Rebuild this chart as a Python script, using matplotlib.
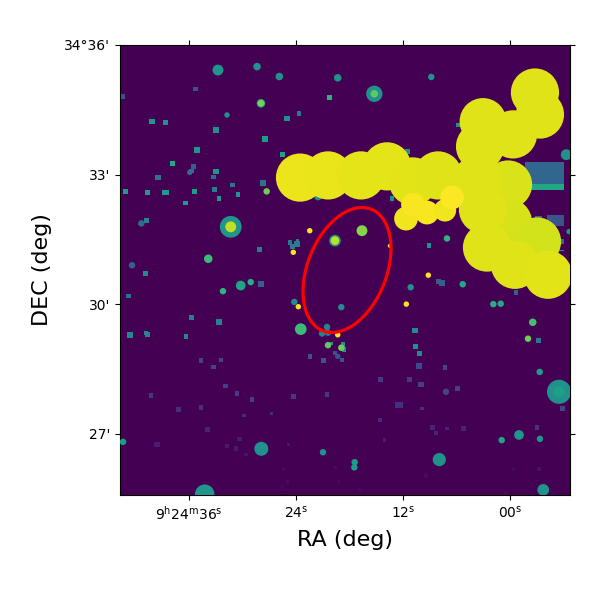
import matplotlib
matplotlib.use('Agg')
import matplotlib.pyplot as plt
from matplotlib.patches import Ellipse
from matplotlib.transforms import Affine2D

# RA = seconds past 9h24m, DEC = arcmin past 34 deg, size in arcsec
SQ_RA = [20.27, 35.25, 43.40, 23.66, 25.01, 40.12, 38.61, 32.94, 27.48, 35.07,
         25.54, 37.87, 35.47, 35.74, 32.94, 33.23, 39.44, 31.14, 27.73, 43.10,
         40.68, 38.80, 38.52, 35.41, 33.16, 30.50, 32.64, 36.37, 40.74, 24.67,
         23.89, 23.85, 24.37, 28.12, 5.80, 11.47, 13.23, 9.08, -5.83, 40.90,
         27.93, 42.76, 35.74, 32.67, 36.34, 42.65, 40.82, 40.68, 20.00, 18.73,
         18.62, 22.43, 20.89, 19.63, 18.84, 34.65, 32.41, 33.23, 31.88, 30.62,
         28.93, 40.26, 24.26, 20.52, 37.16, 34.65, 29.83, 26.73, 33.95, 39.56,
         30.31, 31.74, 30.73, 29.61, 24.86, 19.63, 25.42, 24.93, 25.54, 19.26,
         8.04, 7.59, -0.67, -3.22, 10.69, 10.62, 10.17, 10.21, 7.29, 14.55,
         11.29, 9.98, 5.87, 12.62, 12.28, 9.87, -5.87, 14.58, 8.71, 8.30,
         7.07, 5.19, 14.10, -3.03, -0.37, -3.25, 9.42, 16.86, 0.45]
SQ_DEC = [34.78, 34.98, 34.81, 34.42, 34.30, 34.23, 34.21, 34.04, 33.82, 33.56,
          33.46, 33.26, 33.19, 33.08, 33.07, 32.94, 32.93, 32.76, 32.81, 32.61,
          32.58, 32.58, 32.58, 32.61, 32.65, 32.54, 32.45, 32.34, 31.94, 31.43,
          31.39, 31.47, 31.34, 31.26, 34.15, 33.53, 32.44, 31.36, 31.45, 30.71,
          30.47, 30.19, 29.69, 29.58, 29.25, 29.28, 29.33, 29.29, 29.09, 29.06,
          28.95, 28.79, 28.69, 28.87, 28.71, 28.69, 28.71, 28.54, 28.10, 27.93,
          27.79, 27.88, 27.86, 27.90, 27.56, 27.61, 27.42, 27.47, 27.09, 26.75,
          26.88, 26.72, 26.65, 26.52, 26.75, 26.22, 26.17, 25.88, 25.76, 25.88,
          30.52, 30.48, 30.27, 29.16, 29.39, 29.02, 28.85, 28.57, 28.53, 28.25,
          28.26, 28.14, 28.04, 27.67, 27.67, 27.58, 27.58, 27.32, 27.14, 27.02,
          27.12, 27.12, 26.85, 27.14, 26.18, 26.18, 26.03, 25.72, 25.63]
SQ_SIZE = [5.6, 5.6, 5.6, 5.6, 7, 7, 5.6, 7, 7, 7,
           5.6, 5.6, 5.6, 5.6, 7, 5.6, 7, 5.6, 7, 5.6,
           5.6, 5.6, 5.6, 5.6, 5.6, 5.6, 5.6, 5.6, 5.6, 5.6,
           7, 4.2, 5.6, 5.6, 5.6, 5.6, 5.6, 5.6, 5.6, 5.6,
           7, 5.6, 5.6, 7, 5.6, 7, 5.6, 5.6, 4.2, 5.6,
           5.6, 5.6, 5.6, 5.6, 5.6, 5.6, 5.6, 5.6, 5.6, 5.6,
           5.6, 5.6, 5.6, 5.6, 5.6, 5.6, 4.2, 4.2, 5.6, 7,
           5.6, 4.2, 5.6, 4.2, 4.2, 4.2, 4.2, 4.2, 4.2, 4.2,
           5.6, 7, 5.6, 5.6, 7, 5.6, 5.6, 7, 5.6, 5.6,
           5.6, 7, 5.6, 7, 7, 4.2, 5.6, 5.6, 5.6, 4.2,
           4.2, 5.6, 4.2, 5.6, 4.2, 4.2, 5.6, 4.2, 4.2]
SQ_FLUX = [.65, .25, .25, .4, .5, .52, .5, .5, .55, .52,
           .58, .6, .3, .35, .52, .35, .38, .38, .38, .55,
           .55, .55, .55, .55, .42, .52, .55, .55, .45, .4,
           .42, .42, .42, .42, .5, .5, .5, .5, .35, .48,
           .3, .38, .42, .44, .47, .47, .45, .45, .5, .5,
           .5, .25, .25, .25, .25, .2, .2, .2, .18, .18,
           .18, .16, .16, .16, .14, .14, .12, .12, .1, .08,
           .08, .07, .07, .05, .06, .03, .03, .03, .02, .02,
           .3, .3, .3, .4, .48, .5, .48, .22, .2, .16,
           .16, .18, .18, .14, .14, .14, .2, .12, .1, .1,
           .1, .1, .08, .15, .03, .05, .03, .02, .02]

# round sources, haloes listed before their cores
RD_RA = [32.75, 28.37, 25.87, 19.32, 27.93, 27.93, 31.74, 35.92, 27.29, 21.53,
         41.35, 31.32, 31.32, 22.46, 19.63, 19.63, 24.30, 33.84, 42.39, 15.22,
         15.22, 8.83, 16.60, 7.07, 13.46, -6.31, -6.62, 29.08, 30.20, 32.19,
         24.19, 23.74, 18.92, 23.47, 20.52, 21.08, 20.41, 19.32, 20.41, 18.92,
         19.32, 43.40, 27.89, 20.97, 34.24, 9.16, 11.63, 11.14, 5.30, 1.87,
         1.04, -2.55, -2.02, -3.33, -5.50, -5.50, 7.18, -1.01, -3.36, 0.93,
         7.93, 17.42, 17.46, -3.73]
RD_DEC = [35.42, 35.50, 35.27, 35.24, 34.65, 34.65, 34.38, 33.05, 32.61, 32.49,
          31.87, 31.79, 31.79, 31.70, 31.47, 31.47, 31.20, 31.05, 30.90, 34.87,
          34.87, 35.26, 31.70, 31.52, 31.35, 33.46, 31.68, 30.51, 30.43, 30.30,
          30.05, 29.94, 29.93, 29.42, 29.47, 29.32, 29.34, 29.29, 29.05, 28.99,
          28.79, 26.81, 26.65, 26.57, 25.60, 30.67, 30.00, 30.39, 30.46, 30.00,
          30.01, 29.58, 29.20, 28.43, 27.97, 27.97, 27.97, 26.97, 26.88, 26.85,
          26.40, 26.34, 26.22, 25.70]
RD_SIZE = [14, 9.7, 9.7, 9.7, 11, 8.3, 7, 7, 8.3, 9.7,
           8.3, 28, 14, 7, 15, 11, 7, 11, 8.3, 21,
           9.7, 8.3, 14, 8.3, 5.6, 14, 7, 8.3, 12.5, 8.3,
           8.3, 7, 8.3, 15, 8.3, 8.3, 8.3, 7, 8.3, 8.3,
           7, 8.3, 18, 8.3, 25, 7, 7, 8.3, 8.3, 8.3,
           8.3, 9.7, 8.3, 8.3, 31, 14, 8.3, 12.5, 8.3, 8.3,
           17, 8.3, 8.3, 15]
RD_FLUX = [.52, .5, .5, .5, .62, .8, .5, .35, .78, .5,
           .35, .52, .91, .99, .5, .9, .99, .68, .3, .5,
           .75, .5, .82, .65, .99, .5, .5, .62, .58, .65,
           .48, .99, .48, .68, .45, .45, .45, .99, .75, .78,
           .25, .55, .5, .5, .52, .99, .99, .5, .6, .62,
           .6, .7, .78, .55, .5, .56, .2, .52, .52, .58,
           .5, .55, .55, .5]

# big saturated sources, greener ones at the back
BIG_RA = [0.22, 0.22, -3.03, 3.70, 3.03, 2.58, -0.56, -4.26, 3.03, -2.80,
          -3.36, -0.34, 3.36, 23.55, 20.41, 16.71, 13.79, 10.88, 8.07,
          11.66, 10.88, 9.31, 7.29, 6.50]
BIG_DEC = [32.77, 31.89, 31.45, 32.88, 32.19, 31.31, 30.91, 30.68, 34.23, 34.90,
           34.39, 33.93, 33.65, 32.93, 32.98, 32.98, 33.19, 32.84, 32.98,
           31.98, 32.30, 32.12, 32.17, 32.47]
BIG_SIZE = [67, 67, 67, 67, 67, 67, 67, 67, 65, 67,
            67, 67, 67, 67, 67, 67, 67, 67, 67,
            33, 33, 33, 31, 33]
BIG_FLUX = [.945, .94, .93, .95, .95, .95, .95, .955, .95, .95,
            .95, .95, .95, .97, .965, .96, .96, .955, .95,
            .98, .99, .99, .98, .995]

# rectangular patches at the west edge
BOX_RA = [-1.68, -1.68, -4.12, -2.80, -5.39]
BOX_WIDTH = [-4.38, -4.38, -1.94, -0.79, -0.67]
BOX_DEC = [32.77, 32.64, 31.82, 31.91, 31.22]
BOX_HEIGHT = [0.53, 0.13, 0.25, 0.12, 0.04]
BOX_FLUX = [.33, .6, .26, .38, .55]

RA_TICKS = [36, 24, 12, 0]
RA_LABELS = [r'$9^{\mathrm{h}}24^{\mathrm{m}}36^{\mathrm{s}}$', r'$24^{\mathrm{s}}$',
             r'$12^{\mathrm{s}}$', r'$00^{\mathrm{s}}$']
DEC_TICKS = [36, 33, 30, 27]
DEC_LABELS = ["34°36'", "33'", "30'", "27'"]

# ellipse: centre, semi axes (arcmin), angle
ELL_RA, ELL_DEC = 18.28, 30.79
ELL_A, ELL_B, ELL_ANGLE = 1.515, 0.915, 68.2
ARCMIN_PER_SEC = 0.2066

PT_PER_ARCSEC = 0.518


def areas(sizes, grow=1.0):
    return [(d * PT_PER_ARCSEC * grow) ** 2 for d in sizes]


cmap = plt.get_cmap('viridis')
fig = plt.figure(figsize=(6, 6), dpi=100)
ax = fig.add_axes([0.2, 0.175, 0.75, 0.75])
ax.set_facecolor(cmap(0.0))

ax.bar(BOX_RA, BOX_HEIGHT, width=BOX_WIDTH, bottom=BOX_DEC, align='edge',
       color=[cmap(f) for f in BOX_FLUX], linewidth=0, zorder=1)
# small sources came out a bit tight, hence the grow factors
ax.scatter(SQ_RA, SQ_DEC, s=areas(SQ_SIZE, 1.15), c=SQ_FLUX, cmap=cmap, vmin=0, vmax=1,
           marker='s', linewidths=0, zorder=2)
ax.scatter(RD_RA, RD_DEC, s=areas(RD_SIZE, 1.08), c=RD_FLUX, cmap=cmap, vmin=0, vmax=1,
           marker='o', linewidths=0, zorder=3)
ax.scatter(BIG_RA, BIG_DEC, s=areas(BIG_SIZE), c=BIG_FLUX, cmap=cmap, vmin=0, vmax=1,
           marker='o', linewidths=0, zorder=4)

ell = Ellipse((0, 0), 2 * ELL_A, 2 * ELL_B, angle=ELL_ANGLE, fill=False,
              edgecolor='red', linewidth=2.3, zorder=5)
ell.set_transform(Affine2D().scale(-1 / ARCMIN_PER_SEC, 1).translate(ELL_RA, ELL_DEC)
                  + ax.transData)
ax.add_patch(ell)

ax.set_xlim(43.74, -6.73)
ax.set_ylim(25.58, 36.0)
ax.set_xticks(RA_TICKS)
ax.set_xticklabels(RA_LABELS)
ax.set_yticks(DEC_TICKS)
ax.set_yticklabels(DEC_LABELS)
ax.tick_params(top=True, right=True, direction='out', length=3.5, width=0.8, labelsize=10)
ax.set_xlabel('RA (deg)', fontsize=16, labelpad=5)
ax.set_ylabel('DEC (deg)', fontsize=16, labelpad=9)

fig.savefig('out.png', dpi=100)
